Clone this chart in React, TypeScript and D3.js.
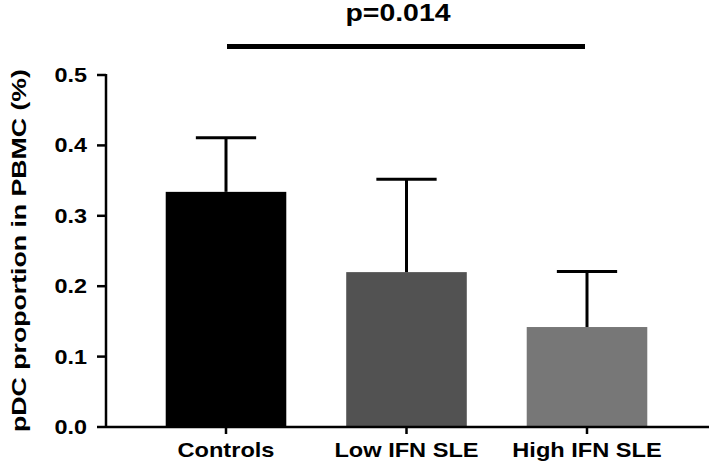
import React, { useEffect, useRef } from 'react';
import * as d3 from 'd3';

const categories = ['Controls', 'Low IFN SLE', 'High IFN SLE'];
const means = [0.334, 0.22, 0.142];
const errUpper = [0.411, 0.352, 0.221];
const barColors = ['#000000', '#525252', '#777777'];
const yTicks = [0, 0.1, 0.2, 0.3, 0.4, 0.5];
const pLabel = 'p=0.014';
const yTitle = 'pDC proportion in PBMC (%)';

const width = 709;
const height = 462;
const font = 'Arial, "Liberation Sans", Helvetica, sans-serif';

export default function App() {
  const svgRef = useRef<SVGSVGElement>(null);

  useEffect(() => {
    if (!svgRef.current) return;
    const svg = d3.select(svgRef.current);
    svg.selectAll('*').remove();

    const x = d3.scaleBand<string>()
      .domain(categories)
      .range([135.75, 677.25])
      .paddingInner(0.332)
      .paddingOuter(0.166);

    const y = d3.scaleLinear().domain([0, 0.5]).range([427, 75]);
    const axisX = 106;

    // bars
    svg.append('g')
      .selectAll('rect')
      .data(categories)
      .enter()
      .append('rect')
      .attr('x', d => x(d)!)
      .attr('y', (d, i) => y(means[i]))
      .attr('width', x.bandwidth())
      .attr('height', (d, i) => y(0) - y(means[i]))
      .attr('fill', (d, i) => barColors[i]);

    // error bars (upper only)
    const err = svg.append('g').attr('stroke', '#000').attr('stroke-width', 3);
    categories.forEach((c, i) => {
      const cx = x(c)! + x.bandwidth() / 2;
      err.append('line')
        .attr('x1', cx).attr('x2', cx)
        .attr('y1', y(means[i])).attr('y2', y(errUpper[i]));
      err.append('line')
        .attr('x1', cx - x.bandwidth() / 4).attr('x2', cx + x.bandwidth() / 4)
        .attr('y1', y(errUpper[i])).attr('y2', y(errUpper[i]));
    });

    // y axis
    const ax = svg.append('g').attr('stroke', '#000').attr('stroke-width', 2.5);
    ax.append('line')
      .attr('x1', axisX).attr('x2', axisX)
      .attr('y1', y(0.5) - 1).attr('y2', y(0));
    yTicks.forEach(t => {
      ax.append('line')
        .attr('x1', axisX - 9).attr('x2', axisX)
        .attr('y1', y(t)).attr('y2', y(t));
    });

    // x axis
    ax.append('line')
      .attr('x1', axisX).attr('x2', width)
      .attr('y1', y(0)).attr('y2', y(0));
    categories.forEach(c => {
      const cx = x(c)! + x.bandwidth() / 2;
      ax.append('line')
        .attr('x1', cx).attr('x2', cx)
        .attr('y1', y(0)).attr('y2', y(0) + 7);
    });

    // tick labels
    svg.append('g')
      .selectAll('text')
      .data(yTicks)
      .enter()
      .append('text')
      .attr('transform', d => `translate(87,${y(d) + 7}) scale(1.2,1)`)
      .attr('text-anchor', 'end')
      .attr('font-family', font)
      .attr('font-weight', 'bold')
      .attr('font-size', 19.5)
      .attr('fill', '#000')
      .text(d => d.toFixed(1));

    svg.append('g')
      .selectAll('text')
      .data(categories)
      .enter()
      .append('text')
      .attr('transform', d => `translate(${x(d)! + x.bandwidth() / 2},457) scale(1.18,1)`)
      .attr('text-anchor', 'middle')
      .attr('font-family', font)
      .attr('font-weight', 'bold')
      .attr('font-size', 20)
      .attr('fill', '#000')
      .text(d => d);

    // y title
    svg.append('text')
      .attr('transform', 'translate(26,250.5) rotate(-90) scale(1.27,1)')
      .attr('text-anchor', 'middle')
      .attr('font-family', font)
      .attr('font-weight', 'bold')
      .attr('font-size', 21)
      .attr('fill', '#000')
      .text(yTitle);

    // significance bracket
    const x1 = x(categories[0])! + x.bandwidth() / 2 + 1;
    const x2 = x(categories[2])! + x.bandwidth() / 2 - 2;
    svg.append('line')
      .attr('x1', x1).attr('x2', x2)
      .attr('y1', 46.5).attr('y2', 46.5)
      .attr('stroke', '#000')
      .attr('stroke-width', 5);
    svg.append('text')
      .attr('transform', `translate(${(x1 + x2) / 2 - 8},21) scale(1.16,1)`)
      .attr('text-anchor', 'middle')
      .attr('font-family', font)
      .attr('font-weight', 'bold')
      .attr('font-size', 24.5)
      .attr('fill', '#000')
      .text(pLabel);
  }, []);

  return (
    <svg
      ref={svgRef}
      width={width}
      height={height}
      style={{ position: 'absolute', left: 0, top: 0, background: '#fff' }}
    />
  );
}
